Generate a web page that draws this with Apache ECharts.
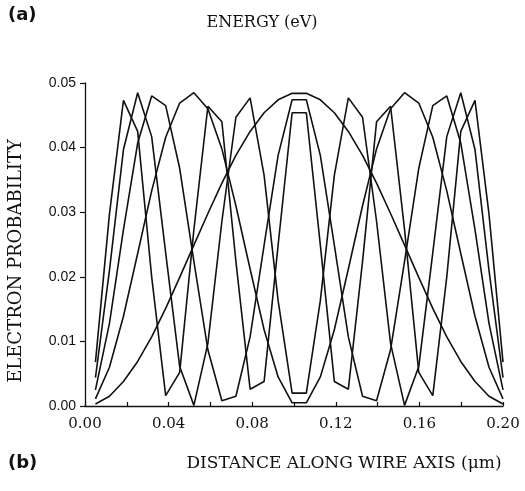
<!DOCTYPE html>
<html>
<head>
<meta charset="utf-8">
<script src="https://cdn.jsdelivr.net/npm/echarts@6/dist/echarts.min.js"></script>
<style>
  html, body { margin: 0; padding: 0; background: #ffffff; }
  #chart { width: 525px; height: 491px; }
</style>
</head>
<body>
<div id="chart"></div>
<script>
// Sample positions along the wire (µm)
const xs = [0.0050,0.0117,0.0184,0.0252,0.0319,0.0386,0.0453,0.0521,0.0588,0.0655,
            0.0722,0.0790,0.0857,0.0924,0.0991,0.1059,0.1126,0.1193,0.1260,0.1328,
            0.1395,0.1462,0.1529,0.1597,0.1664,0.1731,0.1798,0.1866,0.1933,0.2000];

// Electron probability for each state
const state1 = [0.0003,0.0015,0.0038,0.0069,0.0107,0.0151,0.0199,0.0249,0.0298,0.0345,
                0.0388,0.0425,0.0454,0.0474,0.0484,0.0484,0.0474,0.0454,0.0425,0.0388,
                0.0345,0.0298,0.0249,0.0199,0.0151,0.0107,0.0069,0.0038,0.0015,0.0003];
const state2 = [0.0011,0.0060,0.0139,0.0236,0.0333,0.0416,0.0469,0.0485,0.0460,0.0398,
                0.0310,0.0212,0.0118,0.0045,0.0005,0.0005,0.0045,0.0118,0.0212,0.0310,
                0.0398,0.0460,0.0485,0.0469,0.0416,0.0333,0.0236,0.0139,0.0060,0.0011];
const state3 = [0.0025,0.0128,0.0273,0.0407,0.0480,0.0465,0.0368,0.0224,0.0087,0.0008,
                0.0015,0.0107,0.0249,0.0388,0.0474,0.0474,0.0388,0.0249,0.0107,0.0015,
                0.0008,0.0087,0.0224,0.0368,0.0465,0.0480,0.0407,0.0273,0.0128,0.0025];
const state4 = [0.0044,0.0210,0.0397,0.0485,0.0417,0.0237,0.0061,0.0001,0.0097,0.0286,
                0.0447,0.0477,0.0357,0.0163,0.0020,0.0020,0.0163,0.0357,0.0477,0.0447,
                0.0286,0.0097,0.0001,0.0061,0.0237,0.0417,0.0485,0.0397,0.0210,0.0044];
const state5 = [0.0068,0.0297,0.0473,0.0425,0.0200,0.0016,0.0052,0.0273,0.0464,0.0440,
                0.0224,0.0026,0.0038,0.0249,0.0454,0.0454,0.0249,0.0038,0.0026,0.0224,
                0.0440,0.0464,0.0273,0.0052,0.0016,0.0200,0.0425,0.0473,0.0297,0.0068];

const xTickLabels = ['0.00','0.04','0.08','0.12','0.16','0.20'];
const yTickLabels = ['0.00','0.01','0.02','0.03','0.04','0.05'];

const INK = '#111111';
const states = [state1, state2, state3, state4, state5];

const chart = echarts.init(document.getElementById('chart'), null, { renderer: 'canvas' });

chart.setOption({
  backgroundColor: '#ffffff',
  animation: false,
  grid: { left: 85, right: 22, top: 83, bottom: 85, containLabel: false },
  xAxis: {
    type: 'value',
    min: 0, max: 0.2, interval: 0.02,
    axisLine: { show: true, lineStyle: { color: INK, width: 1.3 } },
    axisTick: { show: true, inside: true, length: 4, lineStyle: { color: INK, width: 1.2 } },
    splitLine: { show: false },
    axisLabel: {
      margin: 11,
      color: INK,
      fontFamily: 'DejaVu Serif',
      fontSize: 15,
      formatter: function (v) {
        const s = v.toFixed(2);
        return xTickLabels.indexOf(s) >= 0 ? s : '';
      }
    }
  },
  yAxis: {
    type: 'value',
    min: 0, max: 0.05, interval: 0.01,
    axisLine: { show: true, lineStyle: { color: INK, width: 1.3 } },
    axisTick: { show: true, inside: false, length: 5, lineStyle: { color: INK, width: 1.2 } },
    splitLine: { show: false },
    axisLabel: {
      margin: 9,
      color: INK,
      fontFamily: 'Liberation Sans',
      fontSize: 14,
      formatter: function (v) {
        const s = v.toFixed(2);
        return yTickLabels.indexOf(s) >= 0 ? s : '';
      }
    }
  },
  series: states.map(function (ys, i) {
    return {
      name: 'state ' + (i + 1),
      type: 'line',
      data: xs.map(function (x, k) { return [x, ys[k]]; }),
      showSymbol: false,
      symbol: 'none',
      smooth: false,
      clip: true,
      lineStyle: { color: INK, width: 1.6 }
    };
  }),
  graphic: [
    { type: 'text', left: 8, top: 6,
      style: { text: '(a)', font: 'bold 18px "DejaVu Sans"', fill: INK } },
    { type: 'text', x: 262, y: 23,
      style: { text: 'ENERGY (eV)', font: '16px "DejaVu Serif"', fill: INK, align: 'center', verticalAlign: 'middle' } },
    { type: 'text', x: 16, y: 261, rotation: Math.PI / 2,
      style: { text: 'ELECTRON PROBABILITY', font: '18px "DejaVu Serif"', fill: INK, align: 'center', verticalAlign: 'middle' } },
    { type: 'text', left: 8, top: 454,
      style: { text: '(b)', font: 'bold 18px "DejaVu Sans"', fill: INK } },
    { type: 'text', x: 344, y: 464,
      style: { text: 'DISTANCE ALONG WIRE AXIS (\u03BCm)', font: '17px "DejaVu Serif"', fill: INK, align: 'center', verticalAlign: 'middle' } }
  ]
});
</script>
</body>
</html>
